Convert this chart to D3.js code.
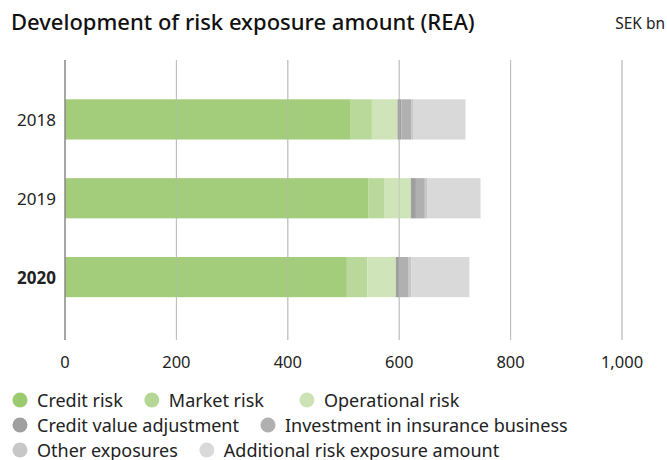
<!DOCTYPE html>
<html>
<head>
<meta charset="utf-8">
<script src="https://cdn.jsdelivr.net/npm/d3@7"></script>
<style>
  body { margin: 0; background: #fff; font-family: "Noto Sans", sans-serif; }
  svg { display: block; }
</style>
</head>
<body>
<svg id="chart" width="667" height="460"></svg>
<script>
// REA per year, SEK bn
var years = ['2018', '2019', '2020'];
var seriesNames = ['Credit risk', 'Market risk', 'Operational risk', 'Credit value adjustment',
  'Investment in insurance business', 'Other exposures', 'Additional risk exposure amount'];
var creditRisk = [513, 545, 506];
var marketRisk = [38, 29, 37];
var operationalRisk = [46, 47, 51];
var creditValueAdj = [7, 9, 7];
var insurance = [18, 16, 16];
var otherExposures = [4, 5, 5];
var additionalREA = [93, 95, 104];
var xTicks = [0, 200, 400, 600, 800, 1000];
// legend rows as laid out in the original
var legendRows = [[0, 1, 2], [3, 4], [5, 6]];

var colors = ['#a3cc7b', '#b9d99b', '#cfe4b9', '#9f9f9f', '#b0b0b0', '#c7c7c7', '#d9d9d9'];
var legendColors = ['#9cca6f', '#b5d795', '#cde3b6', '#9f9f9f', '#b0b0b0', '#c7c7c7', '#d9d9d9'];

var allSeries = [creditRisk, marketRisk, operationalRisk, creditValueAdj, insurance, otherExposures, additionalREA];
var rows = years.map(function (y, i) {
  var r = { year: y };
  seriesNames.forEach(function (s, k) { r[s] = allSeries[k][i]; });
  return r;
});

var svg = d3.select('#chart');

svg.append('text')
  .attr('x', 11).attr('y', 30)
  .attr('font-size', 22).attr('font-weight', 500).attr('fill', '#111')
  .text('Development of risk exposure amount (REA)');

svg.append('text')
  .attr('x', 665).attr('y', 29)
  .attr('text-anchor', 'end')
  .attr('font-size', 15.5).attr('fill', '#222')
  .text('SEK bn');

var x = d3.scaleLinear().domain([0, 1000]).range([65, 622]);
var y = d3.scaleBand().domain(years).range([80, 316.5]).paddingInner(0.49).paddingOuter(0.245);

// grid
svg.append('g').selectAll('line')
  .data(xTicks.slice(1))
  .enter().append('line')
  .attr('x1', function (d) { return x(d); })
  .attr('x2', function (d) { return x(d); })
  .attr('y1', 60).attr('y2', 340)
  .attr('stroke', '#c4c4c4').attr('stroke-width', 1);

var stack = d3.stack().keys(seriesNames)(rows);

svg.append('g').selectAll('g')
  .data(stack)
  .enter().append('g')
  .attr('fill', function (d, i) { return colors[i]; })
  .selectAll('rect')
  .data(function (d) { return d; })
  .enter().append('rect')
  .attr('x', function (d) { return x(d[0]); })
  .attr('width', function (d) { return x(d[1]) - x(d[0]); })
  .attr('y', function (d) { return y(d.data.year); })
  .attr('height', y.bandwidth());

// grid lines show through the bars in the original
svg.append('g').selectAll('line')
  .data(xTicks.slice(1))
  .enter().append('line')
  .attr('x1', function (d) { return x(d); })
  .attr('x2', function (d) { return x(d); })
  .attr('y1', 60).attr('y2', 340)
  .attr('stroke', '#b8b8b8').attr('stroke-opacity', 0.6).attr('stroke-width', 1);

// axis line at 0
svg.append('line')
  .attr('x1', x(0)).attr('x2', x(0))
  .attr('y1', 60).attr('y2', 340)
  .attr('stroke', '#888').attr('stroke-width', 1.5);

// x tick labels
var fmt = d3.format(',');
svg.append('g').selectAll('text')
  .data(xTicks)
  .enter().append('text')
  .attr('x', function (d) { return x(d); })
  .attr('y', 368)
  .attr('text-anchor', 'middle')
  .attr('font-size', 16.5).attr('fill', '#222')
  .text(function (d) { return fmt(d); });

// year labels
svg.append('g').selectAll('text')
  .data(years)
  .enter().append('text')
  .attr('x', 56)
  .attr('y', function (d) { return y(d) + y.bandwidth() / 2 + 6.5; })
  .attr('text-anchor', 'end')
  .attr('font-size', 17)
  .attr('font-weight', function (d) { return d === '2020' ? 700 : 400; })
  .attr('fill', '#222')
  .text(function (d) { return d; });

// legend
var legend = svg.append('g');
legendRows.forEach(function (row, r) {
  var lx = 20, ly = 400 + r * 25;
  row.forEach(function (i) {
    var item = legend.append('g').attr('transform', 'translate(' + lx + ',' + ly + ')');
    item.append('circle').attr('r', 7.5).attr('fill', legendColors[i]);
    var t = item.append('text').attr('x', 17).attr('y', 6.5)
      .attr('font-size', 18).attr('fill', '#222').text(seriesNames[i]);
    lx += 17 + t.node().getComputedTextLength() + (i === 1 ? 43 : 29);
  });
});
</script>
</body>
</html>
